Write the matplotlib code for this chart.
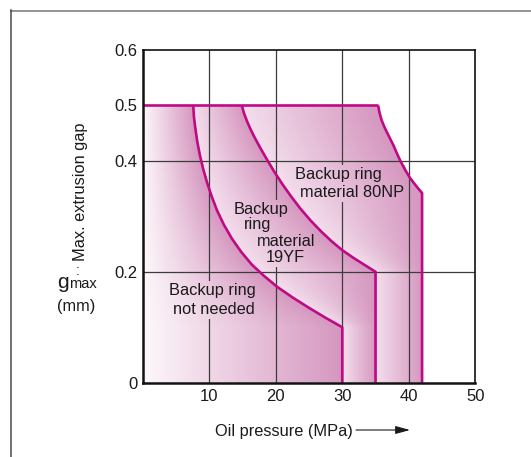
import numpy as np
import matplotlib
matplotlib.use("Agg")
import matplotlib.pyplot as plt
from matplotlib.path import Path
from matplotlib.patches import PathPatch
from matplotlib.lines import Line2D
from matplotlib.transforms import Bbox

plt.rcParams['font.family'] = ['Liberation Sans', 'DejaVu Sans']

# ---------------- data ----------------
x_ticks = [10, 20, 30, 40, 50]
x_tick_labels = ['10', '20', '30', '40', '50']
y_ticks = [0, 0.2, 0.4, 0.5, 0.6]
y_tick_labels = ['0', '0.2', '0.4', '0.5', '0.6']
x_grid = [10, 20, 30, 40]
y_grid = [0.2, 0.4]

max_gap = 0.5
# boundary: backup ring not needed  (ends at 30 MPa)
curve1_x = [7.6, 7.7, 7.9, 8.2, 8.6, 9.1, 9.7, 10.4, 11.2, 12.2, 13.4, 14.8, 16.4, 18.2, 20.2, 22.5, 25.0, 27.5, 30.0]
curve1_y = [0.5, 0.48, 0.46, 0.435, 0.41, 0.385, 0.36, 0.335, 0.31, 0.285, 0.26, 0.236, 0.213, 0.193, 0.173, 0.154, 0.135, 0.117, 0.10]
# boundary: material 19YF (ends at 35 MPa)
curve2_x = [14.9, 15.2, 15.6, 16.1, 16.7, 17.6, 18.7, 19.8, 21.0, 22.3, 23.7, 25.2, 26.8, 28.4, 30.0, 31.7, 33.4, 35.0]
curve2_y = [0.5, 0.487, 0.474, 0.46, 0.445, 0.425, 0.402, 0.38, 0.358, 0.336, 0.314, 0.293, 0.273, 0.255, 0.239, 0.225, 0.212, 0.20]
# boundary: material 80NP (ends at 42 MPa)
curve3_x = [35.4, 35.6, 35.9, 36.3, 36.7, 37.2, 37.7, 38.2, 38.7, 39.4, 40.2, 41.1, 42.0]
curve3_y = [0.5, 0.487, 0.474, 0.462, 0.452, 0.44, 0.428, 0.414, 0.401, 0.385, 0.369, 0.355, 0.342]

# region labels: groups of (line text, x, baseline y)
region_texts = [
    [('Backup ring', 10.45, 0.158),
     ('not needed', 10.75, 0.124)],
    [('Backup', 17.75, 0.305),
     ('ring', 17.3, 0.277),
     ('material', 21.5, 0.247),
     ('19YF', 21.5, 0.217)],
    [('Backup ring', 29.4, 0.367),
     ('material 80NP', 31.45, 0.335)],
]

# ---------------- style ----------------
W, H = 531, 457
line_col = '#bf0a83'
white_c = np.array([253, 248, 251]) / 255
light_c = np.array([243, 222, 236]) / 255
dark_c = np.array([213, 150, 191]) / 255
grid_col = '#3c3c3c'
txt_col = '#1a1a1a'


def px(x, y):
    return x / W, 1 - y / H


fig = plt.figure(figsize=(W / 100, H / 100), dpi=100)
ax = fig.add_axes([142.7 / W, (H - 382.7) / H, (475.3 - 142.7) / W, (382.7 - 50) / H])
ax.set_xlim(0, 50)
ax.set_ylim(0, 0.6)


def boundary(yv, cx, cy):
    cx = np.asarray(cx)
    cy = np.asarray(cy)
    out = np.interp(yv, cy[::-1], cx[::-1])
    out = np.where(yv <= cy[-1], cx[-1], out)
    return out


# gradient image
nx, ny = 900, 450
xe = 43.0
xs = (np.arange(nx) + 0.5) / nx * xe
ys = (np.arange(ny) + 0.5) / ny * max_gap
X, Y = np.meshgrid(xs, ys)
b1 = boundary(Y, curve1_x, curve1_y)
b2 = boundary(Y, curve2_x, curve2_y)
b3 = boundary(Y, curve3_x, curve3_y)
img = np.zeros((ny, nx, 4))
r1 = X < b1
r2 = (X >= b1) & (X < b2)
r3 = (X >= b2) & (X < b3)
t1 = np.clip(X / b1, 0, 1)
t2 = np.clip((X - b1) / np.maximum(b2 - b1, 1e-6), 0, 1)
t3 = np.clip((X - b2) / np.maximum(b3 - b2, 1e-6), 0, 1)
for k in range(3):
    img[..., k] = np.where(r1, white_c[k] + (dark_c[k] - white_c[k]) * t1, 0)
    img[..., k] += np.where(r2, light_c[k] + (dark_c[k] - light_c[k]) * t2, 0)
    img[..., k] += np.where(r3, light_c[k] + (dark_c[k] - light_c[k]) * t3, 0)
img[..., 3] = np.where(r1 | r2 | r3, 1.0, 0.0)

outer = [(0, 0), (0, max_gap)] + list(zip(curve3_x, curve3_y)) + [(curve3_x[-1], 0), (0, 0)]
clip = PathPatch(Path(outer), transform=ax.transData, facecolor='none', edgecolor='none')
ax.add_patch(clip)
im = ax.imshow(img, origin='lower', extent=[0, xe, 0, max_gap], aspect='auto',
               interpolation='bilinear', zorder=1)
im.set_clip_path(clip)

# grid
for gx in x_grid:
    ax.axvline(gx, color=grid_col, lw=0.9, zorder=2)
for gy in y_grid:
    ax.axhline(gy, color=grid_col, lw=0.9, zorder=2)

# region labels
groups = []
for grp in region_texts:
    g = []
    for s, tx, ty in grp:
        t = ax.text(tx, ty, s, ha='center', va='baseline', fontsize=11.8, color=txt_col, zorder=6)
        g.append(t)
    groups.append(g)

# boundary lines
lw = 1.9
ax.plot([0, curve3_x[0]], [max_gap, max_gap], color=line_col, lw=lw, zorder=5, solid_capstyle='butt')
for cx, cy in [(curve1_x, curve1_y), (curve2_x, curve2_y), (curve3_x, curve3_y)]:
    ax.plot(cx + [cx[-1]], cy + [0], color=line_col, lw=lw, zorder=5,
            solid_joinstyle='round', solid_capstyle='butt')

# axes styling
ax.set_xticks(x_ticks)
ax.set_xticklabels(x_tick_labels)
ax.set_yticks(y_ticks)
ax.set_yticklabels(y_tick_labels)
ax.tick_params(length=0, labelsize=12, colors=txt_col)
ax.tick_params(axis='y', pad=3.5)
ax.tick_params(axis='x', pad=4.5)
for side in ['left', 'bottom']:
    ax.spines[side].set_linewidth(1.8)
for side in ['top', 'right']:
    ax.spines[side].set_linewidth(1.2)
for sp in ax.spines.values():
    sp.set_color('#111111')
    sp.set_zorder(7)

# axis labels
fig.text(*px(80, 192), 'Max. extrusion gap', rotation=90, ha='center', va='center', fontsize=11.8, color=txt_col)
fig.text(*px(77.5, 271), ':', ha='center', va='center', fontsize=10, color=txt_col)
fig.text(*px(57.5, 288), 'g', ha='left', va='baseline', fontsize=15, color=txt_col)
fig.text(*px(69.5, 288), 'max', ha='left', va='baseline', fontsize=10.5, color=txt_col)
fig.text(*px(76.5, 306), '(mm)', ha='center', va='center', fontsize=11.8, color=txt_col)
fig.text(*px(215, 435.7), 'Oil pressure (MPa)', ha='left', va='baseline', fontsize=11.8, color=txt_col)
ax.annotate('', xy=px(410, 430), xytext=px(356, 430), xycoords='figure fraction',
            textcoords='figure fraction',
            arrowprops=dict(arrowstyle='-|>,head_length=0.8,head_width=0.22', lw=0.8,
                            color=txt_col, mutation_scale=11, shrinkA=0, shrinkB=0))

# figure frame (top and left visible)
fig.add_artist(Line2D([11 / W, 1], [1 - 10.5 / H, 1 - 10.5 / H], transform=fig.transFigure,
                      color='#8a8a8a', lw=1.3))
fig.add_artist(Line2D([11 / W, 11 / W], [1 - 10 / H, 0], transform=fig.transFigure,
                      color='#4a4a4a', lw=1.1))

# gap in the grid behind region labels: repaint the gradient there
fig.canvas.draw()
renderer = fig.canvas.get_renderer()
inv = ax.transData.inverted()
verts, codes = [], []
for g in groups:
    bb = Bbox.union([t.get_window_extent(renderer) for t in g])
    (x0, y0), (x1, y1) = inv.transform([[bb.x0 - 2, bb.y0 - 2], [bb.x1 + 2, bb.y1 + 2]])
    verts += [(x0, y0), (x1, y0), (x1, y1), (x0, y1), (x0, y0)]
    codes += [Path.MOVETO, Path.LINETO, Path.LINETO, Path.LINETO, Path.CLOSEPOLY]
im2 = ax.imshow(img, origin='lower', extent=[0, xe, 0, max_gap], aspect='auto',
                interpolation='bilinear', zorder=3)
im2.set_clip_path(Path(verts, codes), ax.transData)
ax.set_xlim(0, 50)
ax.set_ylim(0, 0.6)

fig.savefig('out.png', dpi=100)
